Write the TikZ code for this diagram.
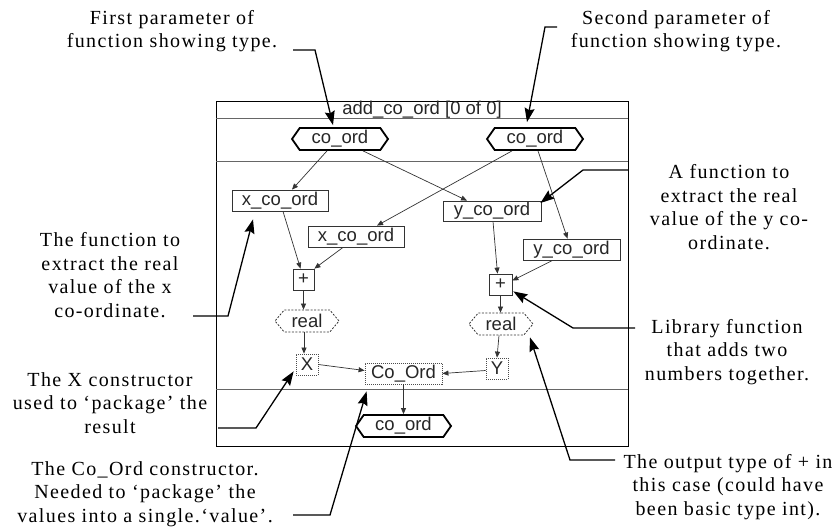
\documentclass[tikz,border=0pt]{standalone}
\usepackage{fontspec}
\setmainfont{Liberation Serif}
\newfontfamily\notefont[LetterSpace=7]{Liberation Serif}
\newfontfamily\boxfont{Liberation Sans}
\usetikzlibrary{arrows.meta,calc,shapes.symbols}

\begin{document}
\begin{tikzpicture}[x=1pt,y=-1pt,
  note/.style={font=\notefont\fontsize{20}{23.5}\selectfont, align=center, inner sep=0},
  lbl/.style={font=\boxfont\fontsize{18.5}{20}\selectfont, inner sep=0, text=black!85},
  fnbox/.style={lbl, draw=black!80, line width=0.8pt},
  consbox/.style={lbl, draw=black!70, line width=0.8pt, dash pattern=on 1pt off 1pt},
  typehex/.style={lbl, draw=black, line width=1.8pt, signal, signal to=east and west, signal pointer angle=110},
  realhex/.style={lbl, draw=black!80, line width=0.8pt, dash pattern=on 2pt off 1.5pt, signal, signal to=east and west, signal pointer angle=100},
  flow/.style={draw=black!80, line width=0.7pt, -{Triangle[length=6pt,width=5pt]}},
  callout/.style={draw=black, line width=1.3pt, -{Stealth[length=14pt,width=10pt,inset=2pt]}},
  divider/.style={draw=black!60, line width=0.9pt}
]
\useasboundingbox (0,0) rectangle (837,532);

% function frame with title bar and sections
\draw[line width=0.9pt] (216,101) rectangle (628,446);
\draw[divider] (216,118) -- (628,118);
\draw[divider] (216,161) -- (628,161);
\draw[divider] (216,389) -- (628,389);
\node[lbl] (title) at (422,110) {add\_co\_ord [0 of 0]};

% parameter and result types
\node[typehex, minimum width=96pt, minimum height=22pt] (topL) at (340,139) {co\_ord};
\node[typehex, minimum width=96pt, minimum height=22pt] (topR) at (535,139) {co\_ord};
\node[typehex, minimum width=95pt, minimum height=22pt] (out) at (403.5,426) {co\_ord};

% selector functions
\node[fnbox, minimum width=96pt, minimum height=21pt] (x1) at (280,200.5) {x\_co\_ord};
\node[fnbox, minimum width=98pt, minimum height=20pt] (y1) at (492,211) {y\_co\_ord};
\node[fnbox, minimum width=96pt, minimum height=21pt] (x2) at (356,236.5) {x\_co\_ord};
\node[fnbox, minimum width=97pt, minimum height=21pt] (y2) at (571.5,249.5) {y\_co\_ord};

% additions
\node[fnbox, minimum width=21pt, minimum height=21pt] (plusL) at (303.5,279.5) {+};
\node[fnbox, minimum width=23pt, minimum height=21pt] (plusR) at (500.5,284.5) {+};

% intermediate types
\node[realhex, minimum width=64pt, minimum height=22pt] (realL) at (307,321) {real};
\node[realhex, minimum width=64pt, minimum height=22pt] (realR) at (501,324) {real};

% constructors
\node[consbox, minimum width=22pt, minimum height=21pt] (X) at (307,364.5) {X};
\node[consbox, minimum width=22pt, minimum height=21pt] (Y) at (497,368.5) {Y};
\node[consbox, minimum width=77pt, minimum height=21pt] (co) at (403.5,373.5) {Co\_Ord};

% data flow
\draw[flow] ($(topL.south)+(-13,0)$) -- ($(x1.north)+(12,0)$);
\draw[flow] ($(topL.south)+(23,0)$) -- ($(y1.north)+(-25,0)$);
\draw[flow] ($(topR.south)+(-23,0)$) -- ($(x2.north)+(21,0)$);
\draw[flow] ($(topR.south)+(3,0)$) -- ($(y2.north)+(-4,0)$);
\draw[flow] ($(x1.south)+(3,0)$) -- ($(plusL.north)+(-3,0)$);
\draw[flow] ($(x2.south)+(-13,0)$) -- (plusL.north east);
\draw[flow] ($(y1.south)+(1,0)$) -- ($(plusR.north)+(-3,0)$);
\draw[flow] ($(y2.south)+(-19,0)$) -- ($(plusR.east)+(0,-4)$);
\draw[flow] (plusL.south) -- (plusL.south |- realL.north);
\draw[flow] (plusR.south) -- (plusR.south |- realR.north);
\draw[flow] ($(realL.south)+(-3,0)$) -- ($(X.north)+(-3,0)$);
\draw[flow] ($(realR.south)+(-2,0)$) -- (Y.north);
\draw[flow] (X.east) -- ($(co.west)+(0,-3)$);
\draw[flow] ($(Y.west)+(0,2)$) -- (co.east);
\draw[flow] (co.south) -- (out.north);

% explanatory notes
\node[note] (n1) at (172,31) {First parameter of\\function showing type.};
\node[note] (n2) at (676,31) {Second parameter of\\function showing type.};
\node[note] (n3) at (110,275) {The function to\\extract the real\\value of the x\\co-ordinate.};
\node[note] (n4) at (110,403) {The X constructor\\used to ‘package’ the\\result};
\node[note] (n5) at (145,494) {The Co\_Ord constructor.\\Needed to ‘package’ the\\values into a single.‘value’.};
\node[note] (n6) at (729,207) {A function to\\extract the real\\value of the y co-\\ordinate.};
\node[note] (n7) at (727,352) {Library function\\that adds two\\numbers together.};
\node[note] (n8) at (728,487) {The output type of + in\\this case (could have\\been basic type int).};

% leader starts
\coordinate (s1) at (293,50);
\coordinate (s2) at (557,27);
\coordinate (s3) at (193,316);
\coordinate (s4) at (218,428);
\coordinate (s5) at (293,515);
\coordinate (s6) at (628,170);
\coordinate (s7) at (635,328);
\coordinate (s8) at (615,460);

% leaders to the parts they describe
\draw[callout] (s1) -- (315,50) -- ($(topL.north)+(-7,-2)$);
\draw[callout] (s2) -- (545,27) -- ($(topR.north)+(-8,-5)$);
\draw[callout] (s3) -- (228,316) -- ($(x1.south)+(-27,8)$);
\draw[callout] (s4) -- (256,428) -- ($(X.south west)+(-2,-4)$);
\draw[callout] (s5) -- (330,515) -- ($(co.south west)+(2,7)$);
\draw[callout] (s6) -- (583,170) -- ($(y1.east)+(-1,-8)$);
\draw[callout] (s7) -- (573,328) -- ($(plusR.south east)+(1,-4)$);
\draw[callout] (s8) -- (570,460) -- ($(realR.south)+(29,2)$);
\end{tikzpicture}
\end{document}
